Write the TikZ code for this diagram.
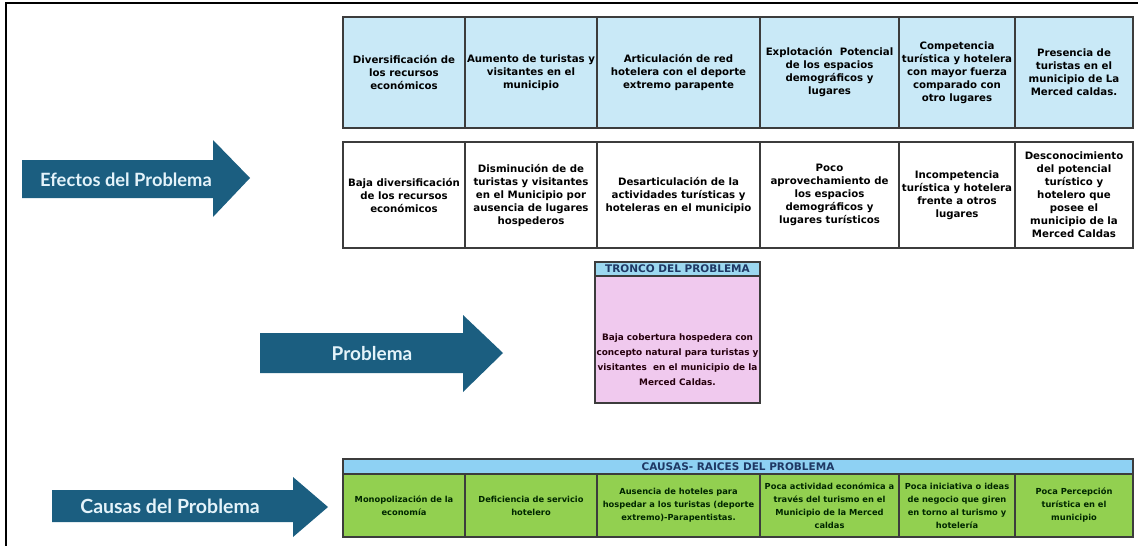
\documentclass[tikz,border=0pt]{standalone}
\usepackage{fontspec}
\setmainfont{Lato}
\newfontfamily\cellfont{DejaVu Sans}
\usetikzlibrary{positioning}

\definecolor{arrowblue}{HTML}{1B5E80}
\definecolor{arrowtext}{HTML}{E4F3FA}
\definecolor{efectofill}{HTML}{C9E9F7}
\definecolor{troncohead}{HTML}{9CD8F0}
\definecolor{troncofill}{HTML}{F0C9EE}
\definecolor{causahead}{HTML}{8ED1F3}
\definecolor{causafill}{HTML}{92D050}
\definecolor{headtext}{HTML}{1F3864}
\definecolor{cellline}{HTML}{3C3C3C}

\begin{document}
\begin{tikzpicture}[x=1pt,y=-1pt]
\tikzset{ inner sep=0pt, outer sep=0pt,
  cell/.style={draw=cellline, line width=1.1pt, anchor=north west, align=center,
               font=\cellfont\fontsize{10.2}{13}\selectfont\bfseries},
  efecto/.style={cell, fill=efectofill, minimum height=111pt},
  efectob/.style={cell, fill=white, minimum height=106pt},
  causa/.style={cell, fill=causafill, minimum height=63pt, text=black!85!green,
                font=\cellfont\fontsize{8.3}{13}\selectfont\bfseries},
  headbar/.style={draw=cellline, line width=1.1pt, anchor=north west, text=headtext,
                  font=\cellfont\fontsize{10.5}{10.5}\selectfont\bfseries},
  arrowlabel/.style={text=arrowtext, font=\fontsize{18.3}{18.3}\selectfont\bfseries},
}

\useasboundingbox (0,0) rectangle (1138,546);

%\draw [lightgray, dashed] (0,0) grid[step=50] (1138,546);

% frame
\draw [line width=2pt] (6,546) -- (6,3) -- (1138,3);

% arrows
\fill [arrowblue] (22,160) -- (213,160) -- (213,140) -- (250,178) -- (213,217) -- (213,198) -- (22,198) -- cycle;
\fill [arrowblue] (260,333) -- (463,333) -- (463,315) -- (503,353) -- (463,392) -- (463,373) -- (260,373) -- cycle;
\fill [arrowblue] (52,490) -- (293,490) -- (293,477) -- (328,507) -- (293,537) -- (293,522) -- (52,522) -- cycle;

\node [arrowlabel] (efectos)  at (126,180) {Efectos del Problema};
\node [arrowlabel, font=\fontsize{19}{19}\selectfont\bfseries] (problema) at (372,354) {Problema};
\node [arrowlabel, font=\fontsize{19.5}{19.5}\selectfont\bfseries] (causas) at (170,506) {Causas del Problema};

% efectos (fila 1)
\node [efecto, minimum width=122pt] (E1) at (343,17)  {Diversificación de\\los recursos\\económicos};
\node [efecto, minimum width=132pt] (E2) at (465,17)  {Aumento de turistas y\\visitantes en el\\municipio};
\node [efecto, minimum width=163pt] (E3) at (597,17)  {Articulación de red\\hotelera con el deporte\\extremo parapente};
\node [efecto, minimum width=139pt] (E4) at (760,17)  {Explotación\ \ Potencial\\de los espacios\\demográficos y\\lugares};
\node [efecto, minimum width=116pt] (E5) at (899,17)  {Competencia\\turística y hotelera\\con mayor fuerza\\comparado con\\otro lugares};
\node [efecto, minimum width=118pt] (E6) at (1015,17) {Presencia de\\turistas en el\\municipio de La\\Merced caldas.};

% efectos (fila 2)
\node [efectob, minimum width=122pt] (F1) at (343,142)  {Baja diversificación\\de los recursos\\económicos};
\node [efectob, minimum width=132pt] (F2) at (465,142)  {Disminución de de\\turistas y visitantes\\en el Municipio por\\ausencia de lugares\\hospederos};
\node [efectob, minimum width=163pt] (F3) at (597,142)  {Desarticulación de la\\actividades turísticas y\\hoteleras en el municipio};
\node [efectob, minimum width=139pt] (F4) at (760,142)  {Poco\\aprovechamiento de\\los espacios\\demográficos y\\lugares turísticos};
\node [efectob, minimum width=116pt] (F5) at (899,142)  {Incompetencia\\turística y hotelera\\frente a otros\\lugares};
\node [efectob, minimum width=118pt] (F6) at (1015,142) {Desconocimiento\\del potencial\\turístico y\\hotelero que\\posee el\\municipio de la\\Merced Caldas};

% tronco
\node [headbar, fill=troncohead, minimum width=165pt, minimum height=14pt] (TH) at (595,262) {TRONCO DEL PROBLEMA};
\node [cell, fill=troncofill, minimum width=165pt, minimum height=127pt] (T) at (595,276) {};
\node [align=center, text=black!80!purple, font=\cellfont\fontsize{8.9}{14.8}\selectfont\bfseries]
      (Ttext) at ([yshift=-20pt]T.center)
      {Baja cobertura hospedera con\\concepto natural para turistas y\\visitantes\ \ en el municipio de la\\Merced Caldas.};

% causas
\node [headbar, fill=causahead, minimum width=790pt, minimum height=15pt] (CH) at (343,459) {CAUSAS- RAICES DEL PROBLEMA};
\node [causa, minimum width=122pt] (C1) at (343,474)  {Monopolización de la\\economía};
\node [causa, minimum width=132pt] (C2) at (465,474)  {Deficiencia de servicio\\hotelero};
\node [causa, minimum width=163pt] (C3) at (597,474)  {Ausencia de hoteles para\\hospedar a los turistas (deporte\\extremo)-Parapentistas.};
\node [causa, minimum width=139pt] (C4) at (760,474)  {Poca actividad económica a\\través del turismo en el\\Municipio de la Merced\\caldas};
\node [causa, minimum width=116pt] (C5) at (899,474)  {Poca iniciativa o ideas\\de negocio que giren\\en torno al turismo y\\hotelería};
\node [causa, minimum width=118pt] (C6) at (1015,474) {Poca Percepción\\turística en el\\municipio};

\end{tikzpicture}
\end{document}
